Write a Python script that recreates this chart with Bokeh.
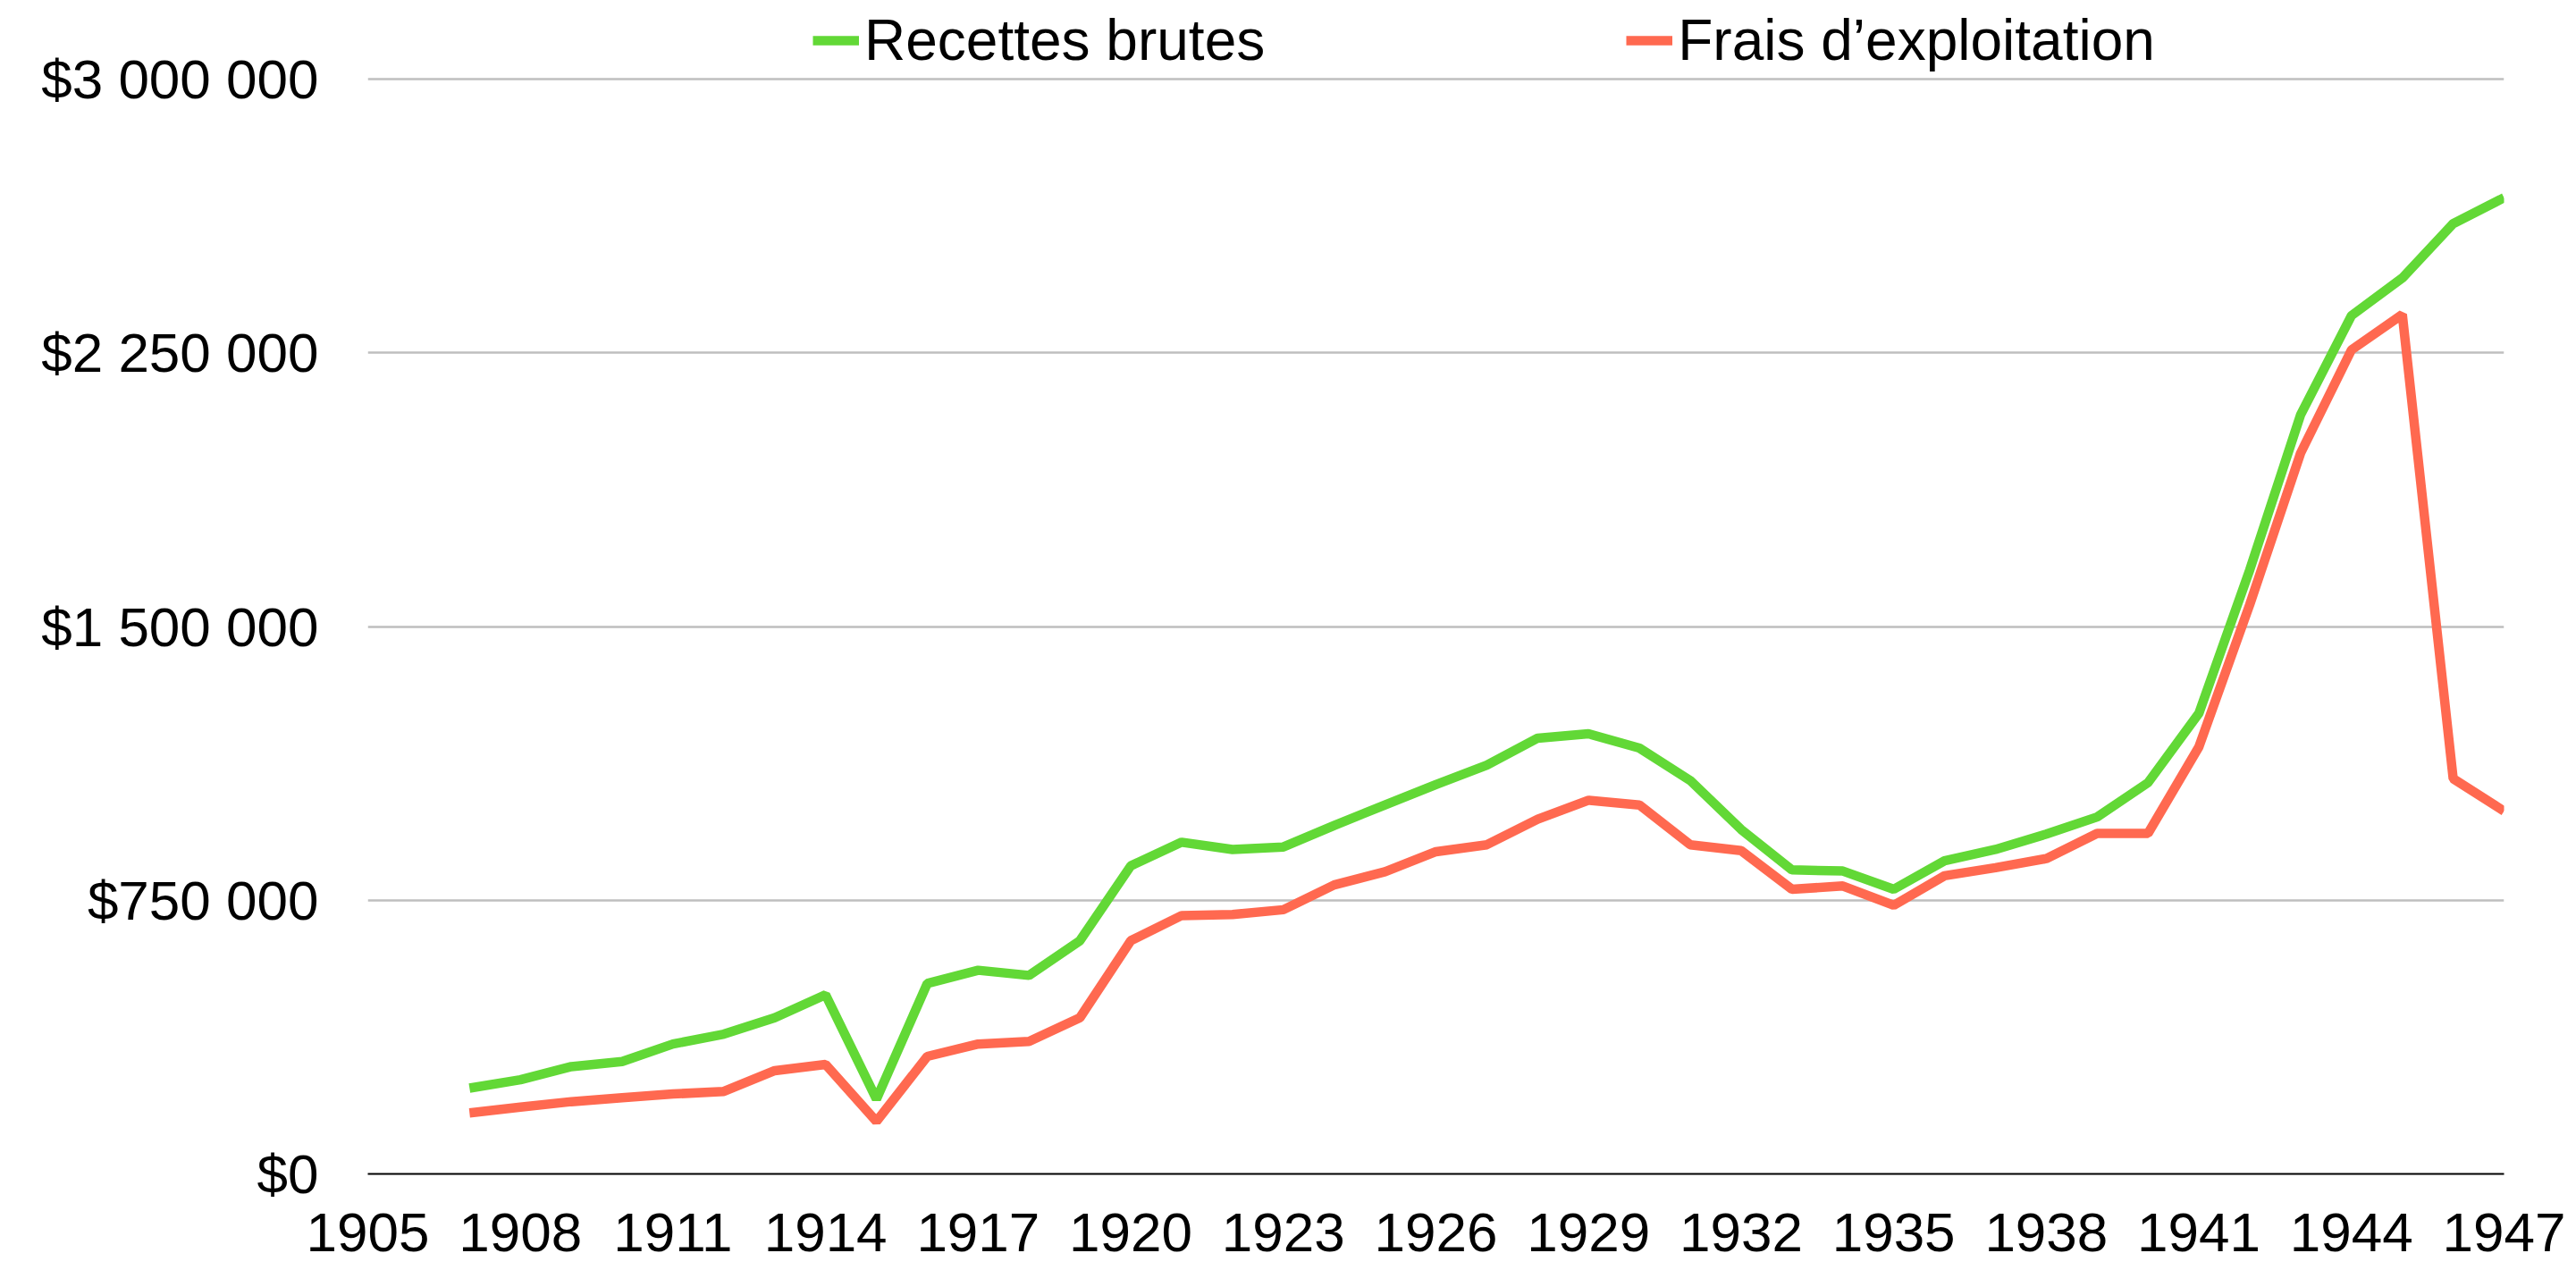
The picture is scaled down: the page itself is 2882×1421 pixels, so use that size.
from bokeh.plotting import figure
from bokeh.models import Range1d, FixedTicker, Legend, LegendItem
from bokeh.embed import file_html
from bokeh.resources import INLINE

years = list(range(1907, 1948))
recettes = [235000, 258000, 294000, 308000, 356000, 383000, 428000, 491000, 205000,
            522000, 558000, 544000, 639000, 844000, 909000, 889000, 896000,
            955000, 1011000, 1067000, 1120000, 1194000, 1206000, 1167000, 1078000,
            944000, 833000, 830000, 780000, 858000, 889000, 931000, 978000, 1072000,
            1262000, 1655000, 2080000, 2352000, 2455000, 2604000, 2675000]
frais = [167000, 183000, 198000, 209000, 219000, 226000, 283000, 300000, 144000,
         322000, 356000, 363000, 428000, 639000, 708000, 711000, 724000,
         792000, 828000, 883000, 902000, 972000, 1024000, 1011000, 902000,
         886000, 780000, 789000, 736000, 817000, 839000, 864000, 933000, 933000,
         1170000, 1560000, 1975000, 2258000, 2355000, 1083000, 994000]
x_ticks = list(range(1905, 1948, 3))
y_ticks = [0, 750000, 1500000, 2250000, 3000000]
y_tick_labels = ["$0", "$750 000", "$1 500 000", "$2 250 000", "$3 000 000"]
series_names = ["Recettes brutes", "Frais d\u2019exploitation"]

FONT = "Liberation Sans"
FS = "62px"

# frame extends above the top gridline to leave room for the legend
Y_TOP = 3000000 * 1313 / 1225

p = figure(width=2874, height=1413, output_backend="svg", toolbar_location=None,
           x_range=Range1d(1905, 1947), y_range=Range1d(0, Y_TOP),
           min_border_left=411, min_border_right=73, min_border_top=0,
           min_border_bottom=100)
p.outline_line_color = None
p.background_fill_color = "white"
p.border_fill_color = "white"

p.xaxis.ticker = FixedTicker(ticks=x_ticks)
p.yaxis.ticker = FixedTicker(ticks=y_ticks)
p.yaxis.major_label_overrides = {t: l for t, l in zip(y_ticks, y_tick_labels)}

for ax in (p.xaxis[0], p.yaxis[0]):
    ax.major_label_text_font = FONT
    ax.major_label_text_font_size = FS
    ax.major_label_text_color = "black"
    ax.major_tick_line_color = None
    ax.minor_tick_line_color = None

p.yaxis.axis_line_color = None
p.yaxis.major_label_standoff = 49
p.xaxis.axis_line_color = "black"
p.xaxis.axis_line_width = 2
p.xaxis.major_label_standoff = 38

p.xgrid.grid_line_color = None
p.ygrid.grid_line_color = "#bfbfbf"
p.ygrid.grid_line_width = 2.5

r1 = p.line(years, recettes, line_color="#62D836", line_width=10.5)
r2 = p.line(years, frais, line_color="#FF6950", line_width=10.5)

legend = Legend(items=[LegendItem(label=series_names[0], renderers=[r1]),
                       LegendItem(label=series_names[1], renderers=[r2])],
                orientation="horizontal", location=(498, 1231),
                label_text_font=FONT, label_text_font_size="64px",
                label_text_color="black", glyph_width=52, glyph_height=60,
                label_height=60, label_standoff=6, spacing=404, padding=0, margin=0,
                border_line_color=None, background_fill_alpha=0)
p.add_layout(legend, "center")

open("out.html", "w").write(file_html(p, INLINE))
